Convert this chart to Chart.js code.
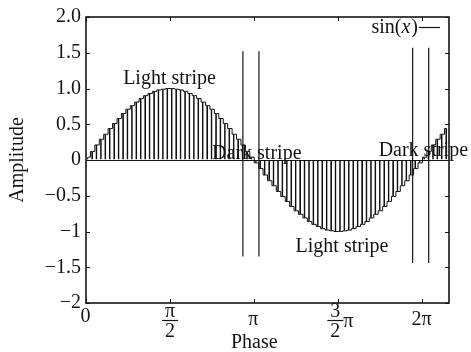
<!DOCTYPE html>
<html><head><meta charset="utf-8">
<script src="https://cdn.jsdelivr.net/npm/chart.js@4.4.1/dist/chart.umd.min.js"></script>
<style>html,body{margin:0;padding:0;background:#fff;}#wrap{width:471px;height:352px;}</style>
</head><body><div id="wrap"><canvas id="c" width="471" height="352"></canvas></div>
<script>
// ---- data ----
const amplitude = [
  0.04,0.12,0.21,0.29,0.36,0.44,0.51,0.58,0.65,0.71,0.76,0.81,0.86,0.90,0.93,0.96,0.98,0.99,1.00,
  1.00,0.99,0.98,0.96,0.93,0.90,0.86,0.81,0.76,0.71,0.65,0.58,0.51,0.44,0.36,0.29,0.21,0.12,0.04,
  -0.04,-0.12,-0.21,-0.29,-0.36,-0.44,-0.51,-0.58,-0.65,-0.71,-0.76,-0.81,-0.86,-0.90,-0.93,-0.96,-0.98,-0.99,-1.00,
  -1.00,-0.99,-0.98,-0.96,-0.93,-0.90,-0.86,-0.81,-0.76,-0.71,-0.65,-0.58,-0.51,-0.44,-0.36,-0.29,-0.21,-0.12,-0.04,
  0.04,0.12,0.21,0.29,0.36,0.44
];
const sampleIndex = amplitude.map((_, i) => String(i));
const phaseMin = 0;
const phaseMax = 6.779;
const xTickValues = [0, Math.PI / 2, Math.PI, 1.5 * Math.PI, 2 * Math.PI];
const xTickLabels = ['0', 'π/2', 'π', '3/2 π', '2π'];
const yTickLabels = ['−2', '−1.5', '−1', '−0.5', '0', '0.5', '1.0', '1.5', '2.0'];
const lineX = [2.93, 3.23, 6.10, 6.40];
const lineTop = [1.52, 1.52, 1.57, 1.57];
const lineBottom = [-1.35, -1.35, -1.44, -1.44];
const noteText = ['Light stripe', 'Dark stripe', 'Light stripe', 'Dark stripe'];
const noteX = [1.56, 3.19, 4.78, 6.30];
const noteY = [1.06, 0.02, -1.28, 0.06];

// ---- styling ----
const FONT = '"Liberation Serif", "Times New Roman", serif';
const ink = '#141414';

const datasets = [{
  type: 'bar', data: amplitude, xAxisID: 'xb', yAxisID: 'y',
  backgroundColor: 'rgba(0,0,0,0)', borderColor: '#111',
  borderWidth: {top: 0, right: 1, bottom: 0, left: 0}, borderSkipped: 'start',
  barPercentage: 1, categoryPercentage: 1, order: 3
}, {
  type: 'line', data: amplitude, xAxisID: 'xb', yAxisID: 'y',
  stepped: 'middle', borderColor: '#111', borderWidth: 1, pointRadius: 0,
  fill: false, order: 2
}];
lineX.forEach((x, i) => datasets.push({
  type: 'line', xAxisID: 'x', yAxisID: 'y',
  data: [{x: x, y: lineBottom[i]}, {x: x, y: lineTop[i]}],
  borderColor: ink, borderWidth: 1.2, pointRadius: 0, fill: false, order: 1
}));

const deco = {
  id: 'deco',
  afterDraw(chart) {
    const {ctx, chartArea: a, scales} = chart;
    const xs = scales.x, ys = scales.y;
    ctx.save();
    // frame
    ctx.strokeStyle = ink; ctx.lineWidth = 1.6;
    ctx.strokeRect(a.left, a.top, a.right - a.left, a.bottom - a.top);
    // inward ticks
    ctx.lineWidth = 1;
    const tl = 4;
    ctx.beginPath();
    xTickValues.forEach(v => {
      const px = Math.round(xs.getPixelForValue(v)) + 0.5;
      ctx.moveTo(px, a.bottom); ctx.lineTo(px, a.bottom - tl);
      ctx.moveTo(px, a.top); ctx.lineTo(px, a.top + tl);
    });
    ys.ticks.forEach(t => {
      const py = Math.round(ys.getPixelForValue(t.value)) + 0.5;
      ctx.moveTo(a.left, py); ctx.lineTo(a.left + tl, py);
      ctx.moveTo(a.right, py); ctx.lineTo(a.right - tl, py);
    });
    ctx.stroke();

    // x tick labels
    ctx.fillStyle = ink;
    ctx.font = '20px ' + FONT;
    ctx.textBaseline = 'alphabetic';
    ctx.textAlign = 'center';
    const b = a.bottom;
    const frac = (cx, num, den) => {
      ctx.fillText(num, cx, b + 14);
      ctx.beginPath(); ctx.lineWidth = 1.2;
      ctx.moveTo(cx - 8, b + 17.5); ctx.lineTo(cx + 8, b + 17.5); ctx.stroke();
      ctx.fillText(den, cx, b + 34);
    };
    xTickLabels.forEach((lab, i) => {
      const px = xs.getPixelForValue(xTickValues[i]);
      if (lab === 'π/2') frac(px, 'π', '2');
      else if (lab === '3/2 π') {
        frac(px - 3, '3', '2');
        ctx.textAlign = 'left';
        ctx.fillText('π', px + 5, b + 24);
        ctx.textAlign = 'center';
      } else if (lab === '0') ctx.fillText(lab, px - 0.5, b + 19);
      else ctx.fillText(lab, px - 1, b + 22);
    });
    // x title
    ctx.fillText('Phase', xs.getPixelForValue(Math.PI), b + 45);

    // annotations
    noteText.forEach((t, i) => {
      ctx.fillText(t, xs.getPixelForValue(noteX[i]), ys.getPixelForValue(noteY[i]));
    });

    // legend: sin(x) ——
    const lr = a.right - 32, lb = a.top + 16;
    ctx.textAlign = 'left';
    ctx.font = '20px ' + FONT;
    const w1 = ctx.measureText('sin(').width, w3 = ctx.measureText(')').width;
    ctx.font = 'italic 20px ' + FONT;
    const w2 = ctx.measureText('x').width;
    let x0 = lr - (w1 + w2 + w3);
    ctx.font = '20px ' + FONT; ctx.fillText('sin(', x0, lb);
    ctx.font = 'italic 20px ' + FONT; ctx.fillText('x', x0 + w1, lb);
    ctx.font = '20px ' + FONT; ctx.fillText(')', x0 + w1 + w2 + 1, lb);
    ctx.beginPath(); ctx.lineWidth = 1.2;
    ctx.moveTo(lr + 2, lb - 5.5); ctx.lineTo(lr + 23, lb - 5.5); ctx.stroke();
    ctx.restore();
  }
};

new Chart(document.getElementById('c'), {
  type: 'bar',
  data: {labels: sampleIndex, datasets: datasets},
  options: {
    responsive: false, animation: false, devicePixelRatio: 1,
    layout: {padding: {left: 0, top: 14, right: 22, bottom: 49}},
    plugins: {legend: {display: false}, tooltip: {enabled: false}},
    scales: {
      xb: {type: 'category', offset: true, display: false, grid: {display: false}},
      x: {type: 'linear', min: phaseMin, max: phaseMax, offset: false, display: false},
      y: {
        type: 'linear', min: -2, max: 2, position: 'left',
        afterFit: s => { s.width = 86; },
        ticks: {stepSize: 0.5, autoSkip: false, padding: 5, color: ink,
          font: {family: FONT, size: 20}, callback: (v, i) => yTickLabels[i]},
        grid: {drawTicks: false, lineWidth: 1,
          color: c => (c.tick && c.tick.value === 0) ? ink : 'rgba(0,0,0,0)'},
        border: {display: false},
        title: {display: true, text: 'Amplitude', color: ink,
          font: {family: FONT, size: 20}, padding: {top: 6, bottom: 0}}
      }
    }
  },
  plugins: [deco]
});
</script>
</body></html>
